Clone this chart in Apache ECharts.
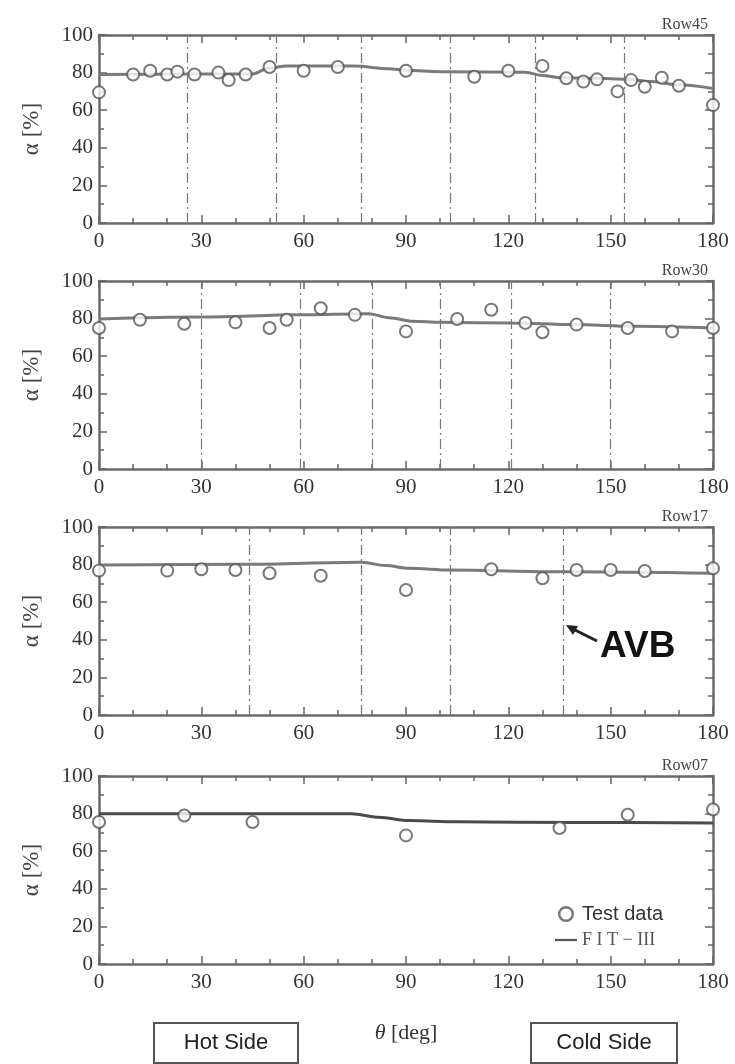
<!DOCTYPE html>
<html>
<head>
<meta charset="utf-8">
<script src="https://cdn.jsdelivr.net/npm/echarts@6/dist/echarts.min.js"></script>
<style>
html,body{margin:0;padding:0;background:#fff;}
#chart{width:735px;height:1064px;}
</style>
</head>
<body>
<div id="chart"></div>
<script>
// ---------- data ----------
const rowNames = ['Row45', 'Row30', 'Row17', 'Row07'];
const xTickLabels = [0, 30, 60, 90, 120, 150, 180];
const yTickLabels = [0, 20, 40, 60, 80, 100];

const row45Theta = [0, 10, 15, 20, 23, 28, 35, 38, 43, 50, 60, 70, 90, 110, 120, 130, 137, 142, 146, 152, 156, 160, 165, 170, 180];
const row45Alpha = [69.5, 79, 81, 79, 80.5, 79, 80, 76, 79, 83, 81, 83, 81, 77.8, 81, 83.5, 77, 75.2, 76.4, 70, 76, 72.5, 77.3, 73, 62.7];
const row45FitTheta = [0, 45, 50, 55, 75, 85, 90, 100, 125, 130, 135, 145, 155, 162, 170, 180];
const row45FitAlpha = [79, 79.3, 82.5, 83.5, 83.5, 82, 81.2, 80.5, 80.2, 78.5, 77.3, 77, 76.5, 75.2, 73.5, 71.5];
const row45Avb = [26, 52, 77, 103, 128, 154];

const row30Theta = [0, 12, 25, 40, 50, 55, 65, 75, 90, 105, 115, 125, 130, 140, 155, 168, 180];
const row30Alpha = [75, 79.4, 77.3, 78, 75, 79.4, 85.5, 82, 73.2, 79.8, 84.7, 77.7, 72.7, 76.8, 75, 73.2, 75];
const row30FitTheta = [0, 30, 59, 79, 85, 92, 100, 121, 139, 157, 180];
const row30FitAlpha = [79.8, 80.8, 82, 82.6, 80.5, 78.6, 78, 77.7, 76.8, 75.9, 75];
const row30Avb = [30, 59, 80, 100, 121, 150];

const row17Theta = [0, 20, 30, 40, 50, 65, 90, 115, 130, 140, 150, 160, 180];
const row17Alpha = [76.8, 76.8, 77.5, 77.1, 75.4, 74.1, 66.5, 77.5, 72.7, 77.1, 77.1, 76.6, 78];
const row17FitTheta = [0, 43, 77, 84, 91, 103, 136, 180];
const row17FitAlpha = [79.8, 80.2, 81.3, 79.5, 78, 77.1, 76.2, 75.4];
const row17Avb = [44, 77, 103, 136];

const row07Theta = [0, 25, 45, 90, 135, 155, 180];
const row07Alpha = [75.5, 79, 75.5, 68.4, 72.3, 79.4, 82.2];
const row07FitTheta = [0, 74, 82, 91, 105, 140, 180];
const row07FitAlpha = [79.9, 79.9, 78, 76.3, 75.6, 75.3, 75];
const row07Avb = [];

// ---------- build ----------
const zip = (a, b) => a.map((v, i) => [v, b[i]]);
const panels = [
  { pts: zip(row45Theta, row45Alpha), fit: zip(row45FitTheta, row45FitAlpha), avb: row45Avb, fitColor: '#7a7a7a' },
  { pts: zip(row30Theta, row30Alpha), fit: zip(row30FitTheta, row30FitAlpha), avb: row30Avb, fitColor: '#7a7a7a' },
  { pts: zip(row17Theta, row17Alpha), fit: zip(row17FitTheta, row17FitAlpha), avb: row17Avb, fitColor: '#7a7a7a' },
  { pts: zip(row07Theta, row07Alpha), fit: zip(row07FitTheta, row07FitAlpha), avb: row07Avb, fitColor: '#4a4a4a' }
];

const SERIF = "'Liberation Serif', 'Times New Roman', serif";
const NARROW = "'Liberation Sans Narrow', 'Liberation Sans', Arial, sans-serif";
const tops = [35, 281, 527, 776];
const gridH = 188;
const xMin = xTickLabels[0], xMax = xTickLabels[xTickLabels.length - 1];
const xStep = xTickLabels[1] - xTickLabels[0];
const yMin = yTickLabels[0], yMax = yTickLabels[yTickLabels.length - 1];
const yStep = yTickLabels[1] - yTickLabels[0];

const axisLineStyle = { color: '#6a6a6a', width: 2.5 };
const tickStyle = { color: '#666', width: 1.5 };

const grid = [], xAxis = [], yAxis = [], series = [], title = [];
panels.forEach((p, i) => {
  grid.push({ left: 99, right: 22, top: tops[i], height: gridH });
  const baseX = {
    gridIndex: i, type: 'value', min: xMin, max: xMax, interval: xStep,
    axisLine: { show: true, onZero: false, lineStyle: axisLineStyle },
    axisTick: { show: true, inside: true, length: 8, lineStyle: tickStyle },
    minorTick: { show: true, splitNumber: 3, length: 5, lineStyle: tickStyle },
    splitLine: { show: false }
  };
  xAxis.push(Object.assign({}, baseX, {
    position: 'bottom',
    axisLabel: { show: true, margin: 8, fontFamily: SERIF, fontSize: 21, color: '#333' },
    name: i === 3 ? '{i|θ} [deg]' : '',
    nameLocation: 'middle', nameGap: 58,
    nameTextStyle: { fontFamily: SERIF, fontSize: 22, color: '#333',
      rich: { i: { fontFamily: SERIF, fontStyle: 'italic', fontSize: 22, color: '#333' } } }
  }));
  xAxis.push(Object.assign({}, baseX, { position: 'top', axisLabel: { show: false } }));
  const baseY = {
    gridIndex: i, type: 'value', min: yMin, max: yMax, interval: yStep,
    axisLine: { show: true, onZero: false, lineStyle: axisLineStyle },
    axisTick: { show: true, inside: true, length: 8, lineStyle: tickStyle },
    minorTick: { show: true, splitNumber: 2, length: 5, lineStyle: tickStyle },
    splitLine: { show: false }
  };
  yAxis.push(Object.assign({}, baseY, {
    position: 'left',
    axisLabel: { show: true, margin: 6, fontFamily: SERIF, fontSize: 21, color: '#333' },
    name: 'α [%]', nameLocation: 'middle', nameGap: 56, nameRotate: 90,
    nameTextStyle: { fontFamily: SERIF, fontSize: 23, color: '#444' }
  }));
  yAxis.push(Object.assign({}, baseY, { position: 'right', axisLabel: { show: false } }));

  series.push({
    name: 'F I T − III', type: 'line', xAxisIndex: 2 * i, yAxisIndex: 2 * i,
    data: p.fit, smooth: 0.35, smoothMonotone: 'x', symbol: 'none', showSymbol: false,
    lineStyle: { color: p.fitColor, width: 3 }, itemStyle: { color: p.fitColor },
    z: 2,
    markLine: {
      silent: true, symbol: 'none', label: { show: false },
      lineStyle: { color: '#777', width: 1.2, type: [10, 4, 2, 4] },
      data: p.avb.map(v => ({ xAxis: v }))
    }
  });
  series.push({
    name: 'Test data', type: 'scatter', xAxisIndex: 2 * i, yAxisIndex: 2 * i,
    data: p.pts, symbol: 'emptyCircle', symbolSize: 12,
    itemStyle: { color: '#555', borderColor: '#555', borderWidth: 2 }, z: 3
  });
  title.push({
    text: rowNames[i], right: 22, top: tops[i] - 23,
    textStyle: { fontFamily: SERIF, fontSize: 16, fontWeight: 'normal', color: '#444' }
  });
});

const option = {
  backgroundColor: '#fff',
  animation: false,
  title: title,
  grid: grid,
  xAxis: xAxis,
  yAxis: yAxis,
  series: series,
  legend: {
    orient: 'vertical', left: 550, top: 899, itemGap: 7,
    itemWidth: 22, itemHeight: 16, symbolKeepAspect: true,
    data: [
      { name: 'Test data', icon: 'path://M8,0A8,8,0,1,1,7.99,0ZM8,2.4A5.6,5.6,0,1,0,8.01,2.4Z',
        itemStyle: { color: '#555', borderWidth: 0 } },
      { name: 'F I T − III', icon: 'path://M0,0L22,0L22,2.2L0,2.2Z',
        itemStyle: { color: '#555', borderWidth: 0 } }
    ],
    formatter: n => n === 'Test data' ? '{a|' + n + '}' : '{b|' + n + '}',
    textStyle: {
      rich: {
        a: { fontFamily: NARROW, fontSize: 20, color: '#333' },
        b: { fontFamily: SERIF, fontSize: 18, color: '#555' }
      }
    }
  },
  graphic: [
    { type: 'line', shape: { x1: 597, y1: 641, x2: 571, y2: 628 }, style: { stroke: '#222', lineWidth: 3 } },
    { type: 'polygon', shape: { points: [[566, 625], [578, 626], [573, 635]] }, style: { fill: '#222' } },
    { type: 'text', left: 600, top: 628, style: { text: 'AVB', font: "bold 37px 'Liberation Sans', Arial, sans-serif", fill: '#111' } },
    { type: 'rect', shape: { x: 154, y: 1023, width: 144, height: 40 }, style: { fill: '#fff', stroke: '#555', lineWidth: 2 } },
    { type: 'text', x: 226, y: 1043, style: { text: 'Hot Side', font: "22px 'Liberation Sans Narrow', 'Liberation Sans', Arial, sans-serif", fill: '#222', align: 'center', verticalAlign: 'middle' } },
    { type: 'rect', shape: { x: 531, y: 1023, width: 146, height: 40 }, style: { fill: '#fff', stroke: '#555', lineWidth: 2 } },
    { type: 'text', x: 604, y: 1043, style: { text: 'Cold Side', font: "22px 'Liberation Sans Narrow', 'Liberation Sans', Arial, sans-serif", fill: '#222', align: 'center', verticalAlign: 'middle' } }
  ]
};

const chart = echarts.init(document.getElementById('chart'), null, { renderer: 'canvas' });
chart.setOption(option);
</script>
</body>
</html>
